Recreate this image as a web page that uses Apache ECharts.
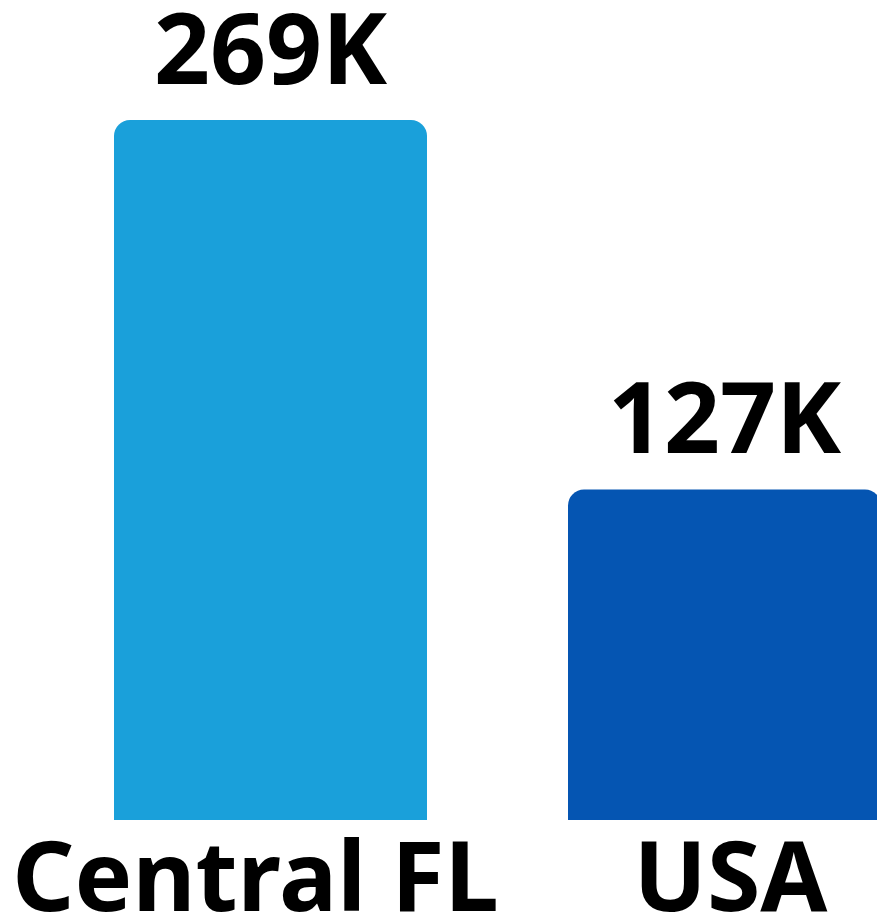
<!DOCTYPE html>
<html>
<head>
<meta charset="utf-8">
<script src="https://cdn.jsdelivr.net/npm/echarts@6/dist/echarts.min.js"></script>
<style>
html,body{margin:0;padding:0;background:#fff;}
#c{width:877px;height:918px;}
</style>
</head>
<body>
<div id="c"></div>
<script>
var categories = ['Central FL', 'USA'];
var values = [269, 127];
var valueLabels = ['269K', '127K'];
var colors = ['#1AA0DA', '#0555B2'];
var labelShift = [[0, 30, 0, 0], [0, 0, 0, 12]];

var chart = echarts.init(document.getElementById('c'), null, {renderer: 'canvas'});
chart.setOption({
  backgroundColor: '#ffffff',
  animation: false,
  grid: {left: 43.5, width: 908, top: 120, height: 700, containLabel: false, outerBoundsMode: 'none'},
  xAxis: {
    type: 'category',
    data: categories.map(function (c, i) {
      return {value: c, textStyle: {padding: labelShift[i]}};
    }),
    axisLine: {show: false},
    axisTick: {show: false},
    axisLabel: {
      margin: 15,
      fontFamily: 'Noto Sans',
      fontWeight: 'bold',
      fontSize: 97,
      lineHeight: 97,
      color: '#000',
      interval: 0
    }
  },
  yAxis: {
    type: 'value',
    min: 0,
    max: 269,
    show: false,
    splitLine: {show: false}
  },
  series: [{
    type: 'bar',
    barWidth: 313,
    data: values.map(function (v, i) {
      return {value: v, itemStyle: {color: colors[i], borderRadius: [16, 16, 0, 0]}};
    }),
    label: {
      show: true,
      position: 'top',
      distance: 15,
      fontFamily: 'Noto Sans',
      fontWeight: 'bold',
      fontSize: 98,
      lineHeight: 98,
      color: '#000',
      formatter: function (p) { return valueLabels[p.dataIndex]; }
    }
  }]
});
</script>
</body>
</html>
